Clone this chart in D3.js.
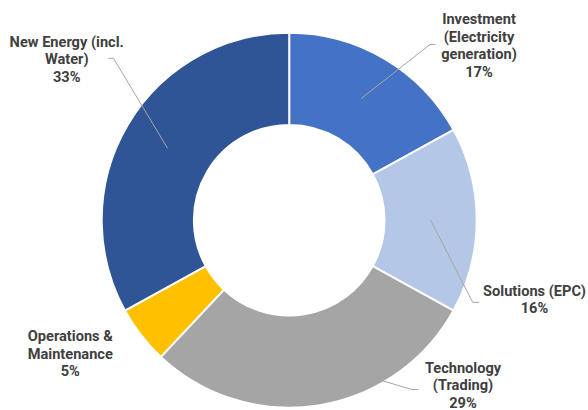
<!DOCTYPE html>
<html>
<head>
<meta charset="utf-8">
<script src="https://cdn.jsdelivr.net/npm/d3@7"></script>
<style>
  html, body { margin: 0; padding: 0; background: #fff; }
  svg text { font-family: Roboto, "Liberation Sans", sans-serif; font-weight: bold; }
</style>
</head>
<body>
<svg id="chart" width="588" height="410"></svg>
<script>
// chart data
var categories = ['Investment', 'Solutions', 'Technology', 'Operations & Maintenance', 'New Energy'];
var values = [17, 16, 29, 5, 33];
var labelLines = [
    ['Investment', '(Electricity', 'generation)', '17%'],
    ['Solutions (EPC)', '16%'],
    ['Technology', '(Trading)', '29%'],
    ['Operations &', 'Maintenance', '5%'],
    ['New Energy (incl.', 'Water)', '33%']
];
var colors = ['#4472C4', '#B4C7E7', '#A5A5A5', '#FFC000', '#2F5597'];

// label layout: text centre of first line, leader elbow and end (null = no leader)
var labelPos = [[479, 19], [534.5, 290.7], [463, 367.5], [70.3, 336], [66.7, 41.7]];
var leaderPts = [
    [[430, 44.5], [435.5, 44.5]],
    [[472.7, 302.3], [479.3, 302.3]],
    [[412, 389.5], [418.5, 389.5]],
    null,
    [[113.5, 58.3], [108.3, 58.3]]
];

var cx = 289.2, cy = 220.2, outerR = 187.5, innerR = 95.3;
var lineStep = 17.7;

var svg = d3.select('#chart');
var g = svg.append('g').attr('transform', 'translate(' + cx + ',' + cy + ')');

var pie = d3.pie().sort(null).value(function (d) { return d; });
var arc = d3.arc().innerRadius(innerR).outerRadius(outerR);
var arcs = pie(values);

// slices
g.selectAll('path.slice')
    .data(arcs)
    .enter().append('path')
    .attr('class', 'slice')
    .attr('d', arc)
    .attr('fill', function (d, i) { return colors[i]; })
    .attr('stroke', '#fff')
    .attr('stroke-width', 2)
    .attr('stroke-linejoin', 'round');

// leader lines
var line = d3.line();
arcs.forEach(function (d, i) {
    if (!leaderPts[i]) return;
    var c = arc.centroid(d);
    var pts = [[c[0] + cx, c[1] + cy], leaderPts[i][0], leaderPts[i][1]];
    svg.append('path')
        .attr('d', line(pts))
        .attr('fill', 'none')
        .attr('stroke', '#A6A6A6')
        .attr('stroke-width', 1);
});

// labels
labelLines.forEach(function (lines, i) {
    var t = svg.append('text')
        .attr('x', labelPos[i][0])
        .attr('y', labelPos[i][1])
        .attr('text-anchor', 'middle')
        .attr('dominant-baseline', 'central')
        .attr('font-size', '14.6px')
        .attr('fill', '#404040');
    lines.forEach(function (s, k) {
        t.append('tspan')
            .attr('x', labelPos[i][0])
            .attr('y', labelPos[i][1] + k * lineStep)
            .text(s);
    });
});
</script>
</body>
</html>
